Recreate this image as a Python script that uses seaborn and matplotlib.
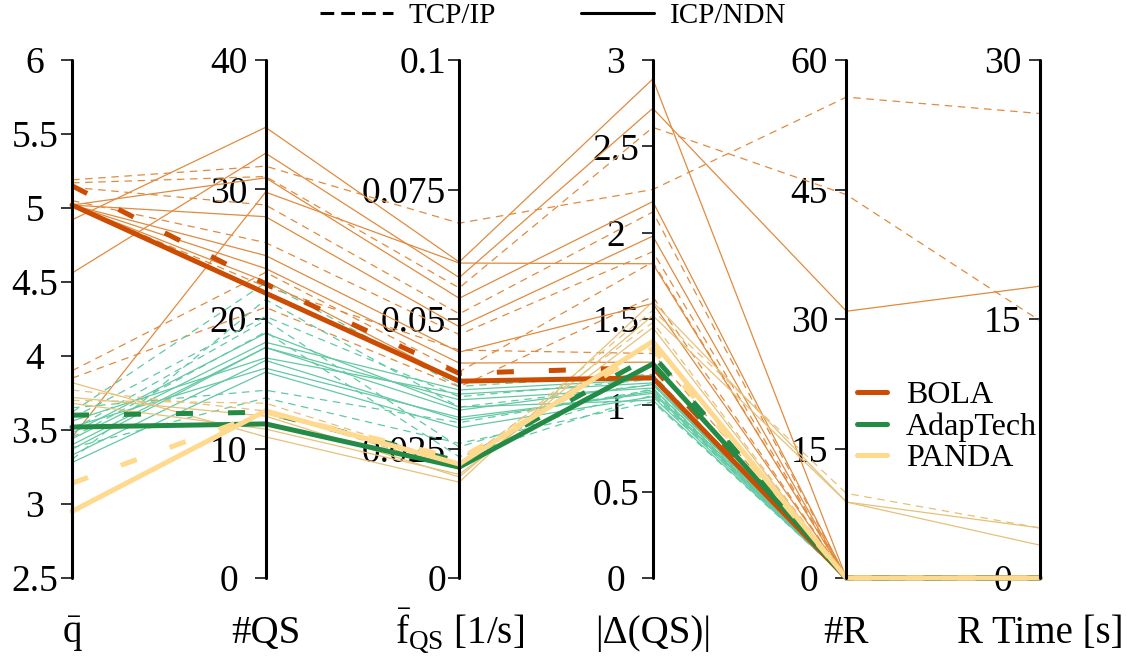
import matplotlib
matplotlib.use("Agg")
import matplotlib.pyplot as plt
import seaborn as sns
import pandas as pd
from matplotlib.lines import Line2D

sns.set_style("white")
plt.rcParams["font.family"] = ["Liberation Serif", "DejaVu Serif"]
plt.rcParams["mathtext.fontset"] = "custom"
plt.rcParams["mathtext.rm"] = "Liberation Serif"
plt.rcParams["mathtext.it"] = "Liberation Serif:italic"
plt.rcParams["text.color"] = "black"
plt.rcParams["ytick.color"] = "black"
plt.rcParams["xtick.color"] = "black"
plt.rcParams["ytick.left"] = True

# ---- parallel axes -------------------------------------------------------
axis_labels = [r"$\bar{\mathrm{q}}$", "#QS", r"$\bar{\mathrm{f}}_{\mathrm{QS}}$ [1/s]",
               "|Δ(QS)|", "#R", "R Time [s]"]
axis_lo = [2.5, 0, 0, 0, 0, 0]
axis_hi = [6, 40, 0.1, 3, 60, 30]
axis_ticks = [
    [2.5, 3, 3.5, 4, 4.5, 5, 5.5, 6],
    [0, 10, 20, 30, 40],
    [0, 0.025, 0.05, 0.075, 0.1],
    [0, 0.5, 1, 1.5, 2, 2.5, 3],
    [0, 15, 30, 45, 60],
    [0, 15, 30],
]
axis_ticklabels = [
    ["2.5", "3", "3.5", "4", "4.5", "5", "5.5", "6"],
    ["0", "10", "20", "30", "40"],
    ["0", "0.025", "0.05", "0.075", "0.1"],
    ["0", "0.5", "1", "1.5", "2", "2.5", "3"],
    ["0", "15", "30", "45", "60"],
    ["0", "15", "30"],
]

# ---- individual runs: q, #QS, f_QS, |dQS|, #R, R time ---------------------
bola_icp_runs = [
    [4.92, 34.8, 0.061, 2.89, 0, 0],
    [4.56, 32.8, 0.058, 2.72, 30.9, 16.9],
    [5.02, 30.9, 0.054, 2.18, 0, 0],
    [5.02, 27.9, 0.0485, 1.98, 0, 0],
    [3.45, 29.8, 0.0608, 1.82, 0, 0],
    [5.02, 24.9, 0.0436, 1.59, 0, 0],
    [5.02, 23.9, 0.0415, 1.25, 0, 0],
    [5.02, 22.9, 0.038, 1.15, 0, 0],
]
bola_tcp_runs = [
    [5.19, 31.8, 0.0685, 2.25, 55.7, 26.9],
    [5.17, 31.0, 0.056, 2.61, 44.4, 14.9],
    [5.14, 28.8, 0.051, 2.12, 0, 0],
    [5.05, 25.9, 0.047, 1.89, 0, 0],
    [3.90, 23.6, 0.0398, 1.83, 0, 0],
    [3.85, 20.9, 0.0369, 1.63, 0, 0],
    [5.02, 22.5, 0.044, 1.30, 0, 0],
]
adap_icp_runs = [
    [3.28, 15.9, 0.029, 1.05, 0, 0],
    [3.33, 16.8, 0.0305, 1.08, 0, 0],
    [3.37, 17.8, 0.0324, 1.12, 0, 0],
    [3.40, 17.8, 0.0344, 1.10, 0, 0],
    [3.44, 18.2, 0.0363, 1.15, 0, 0],
    [3.48, 18.9, 0.033, 1.03, 0, 0],
    [3.52, 16.2, 0.031, 1.07, 0, 0],
    [3.56, 17.0, 0.0355, 1.13, 0, 0],
]
adap_tcp_runs = [
    [3.62, 22.8, 0.037, 1.18, 0, 0],
    [3.58, 20.2, 0.035, 1.15, 0, 0],
    [3.50, 19.9, 0.0253, 1.10, 0, 0],
    [3.45, 19.0, 0.0234, 1.06, 0, 0],
    [3.38, 13.9, 0.026, 1.02, 0, 0],
    [3.30, 21.5, 0.033, 1.12, 0, 0],
    [3.65, 14.5, 0.030, 1.09, 0, 0],
]
panda_icp_runs = [
    [3.82, 10.9, 0.0185, 1.60, 8.8, 2.9],
    [3.72, 12.5, 0.0195, 1.52, 8.8, 1.9],
    [3.68, 11.5, 0.0200, 1.45, 0, 0],
]
panda_tcp_runs = [
    [3.77, 12.9, 0.021, 1.55, 9.8, 2.9],
    [3.70, 13.5, 0.022, 1.48, 0, 0],
]

# ---- per-algorithm aggregate lines ----------------------------------------
bola_icp_mean = [5.02, 22.0, 0.038, 1.16, 0, 0]
bola_tcp_mean = [5.15, 22.7, 0.0395, 1.22, 0, 0]
adap_icp_mean = [3.52, 11.9, 0.0214, 1.24, 0, 0]
adap_tcp_mean = [3.60, 12.8, 0.0225, 1.29, 0, 0]
panda_icp_mean = [2.95, 12.9, 0.0220, 1.37, 0, 0]
panda_tcp_mean = [3.14, 12.8, 0.0230, 1.33, 0, 0]

algos = ["BOLA", "AdapTech", "PANDA"]
protos = ["TCP/IP", "ICP/NDN"]

run_groups = [
    ("BOLA", "TCP/IP", bola_tcp_runs), ("BOLA", "ICP/NDN", bola_icp_runs),
    ("AdapTech", "TCP/IP", adap_tcp_runs), ("AdapTech", "ICP/NDN", adap_icp_runs),
    ("PANDA", "TCP/IP", panda_tcp_runs), ("PANDA", "ICP/NDN", panda_icp_runs),
]
mean_groups = [
    ("BOLA", "TCP/IP", [bola_tcp_mean]), ("BOLA", "ICP/NDN", [bola_icp_mean]),
    ("AdapTech", "TCP/IP", [adap_tcp_mean]), ("AdapTech", "ICP/NDN", [adap_icp_mean]),
    ("PANDA", "TCP/IP", [panda_tcp_mean]), ("PANDA", "ICP/NDN", [panda_icp_mean]),
]


def to_long(groups):
    rows = []
    for algo, proto, runs in groups:
        for k, run in enumerate(runs):
            for i, v in enumerate(run):
                rows.append({
                    "unit": f"{algo}-{proto}-{k}",
                    "algo": algo,
                    "proto": proto,
                    "pos": i,
                    "norm": (v - axis_lo[i]) / (axis_hi[i] - axis_lo[i]),
                })
    return pd.DataFrame(rows)


runs_df = to_long(run_groups)
mean_df = to_long(mean_groups)

thin_pal = {"BOLA": "#e08b3f", "AdapTech": "#62c9a3", "PANDA": "#e6c17a"}
thick_pal = {"BOLA": "#cc4c02", "AdapTech": "#238b45", "PANDA": "#fed98e"}

W, H = 1127, 666
fig = plt.figure(figsize=(W / 100, H / 100), dpi=100)
x0, x1, y_top, y_bot = 72, 1040, 60, 578
ax = fig.add_axes([x0 / W, 1 - y_bot / H, (x1 - x0) / W, (y_bot - y_top) / H])

sns.lineplot(data=runs_df, x="pos", y="norm", hue="algo", style="proto",
             units="unit", estimator=None, sort=False,
             hue_order=algos, style_order=protos,
             palette=thin_pal, dashes={"TCP/IP": (6, 4.5), "ICP/NDN": ""},
             linewidth=0.9, legend=False, ax=ax, clip_on=False)

sns.lineplot(data=mean_df, x="pos", y="norm", hue="algo", style="proto",
             units="unit", estimator=None, sort=False,
             hue_order=algos, style_order=protos,
             palette=thick_pal, dashes={"TCP/IP": (3.4, 7), "ICP/NDN": ""},
             linewidth=3.6, legend=False, ax=ax, clip_on=False)
ax.set_xlim(0, 5)
ax.set_ylim(0, 1)
ax.set_axis_off()

# one vertical scale per metric
for i in range(6):
    sub = ax.inset_axes([i, 0, 1e-6, 1], transform=ax.transData)
    sub.set_zorder(1)
    sub.patch.set_visible(False)
    for s in sub.spines.values():
        s.set_visible(False)
    sub.set_xticks([])
    sub.set_ylim(axis_lo[i], axis_hi[i])
    sub.set_yticks(axis_ticks[i])
    sub.set_yticklabels(axis_ticklabels[i])
    if i == 2:
        sub.tick_params(axis="y", left=True, length=8, width=1.1,
                        labelsize=27, pad=1.5, colors="black")
    else:
        sub.tick_params(axis="y", left=True, length=8, width=1.1,
                        labelsize=27, pad=18.7, colors="black")
        for t in sub.get_yticklabels():
            t.set_horizontalalignment("center")
    ax.axvline(i, 0, 1, color="black", lw=2.2, zorder=5, clip_on=False)
    ax.text(i, -0.1255, axis_labels[i], transform=ax.get_xaxis_transform(),
            ha="center", va="baseline", fontsize=28, color="black")

# protocol legend (top)
proto_handles = [
    Line2D([], [], color="black", lw=2.2, dashes=(4.5, 2.3)),
    Line2D([], [], color="black", lw=2.2),
]
fig.legend(proto_handles, protos, loc="center", ncol=2, frameon=False,
           bbox_to_anchor=(553 / W, 1 - 16 / H), fontsize=21,
           handlelength=2.5, handletextpad=0.55, columnspacing=2.9,
           borderaxespad=0, labelcolor="black")

# algorithm legend (right)
algo_handles = [Line2D([], [], color=thick_pal[a], lw=3.6) for a in algos]
fig.legend(algo_handles, algos, loc="center left", frameon=False,
           bbox_to_anchor=(844 / W, 1 - 427 / H), fontsize=23,
           handlelength=0.94, handletextpad=0.6, labelspacing=0.07,
           borderaxespad=0, labelcolor="black")

fig.savefig("out.png", dpi=100)
